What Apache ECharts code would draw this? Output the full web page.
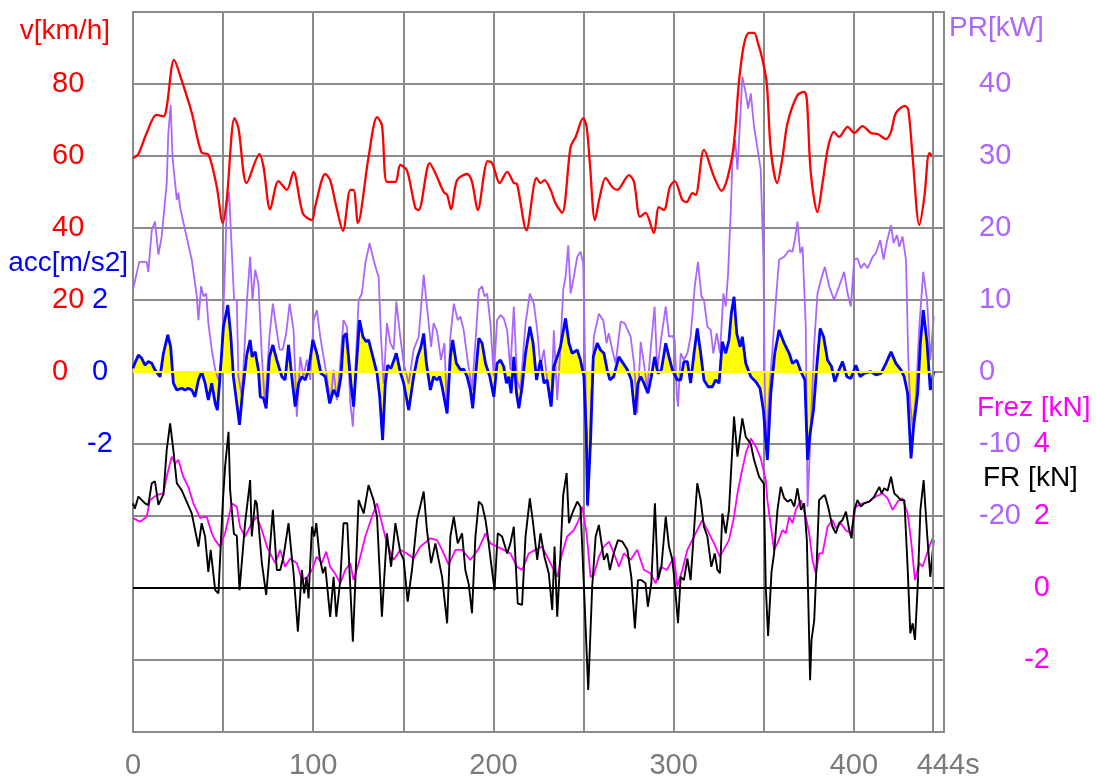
<!DOCTYPE html>
<html>
<head>
<meta charset="utf-8">
<script src="https://cdn.jsdelivr.net/npm/echarts@6/dist/echarts.min.js"></script>
<style>html,body{margin:0;padding:0;background:#fff}#c{width:1096px;height:782px}</style>
</head>
<body>
<div id="c"></div>
<script>
// ---- data (time in s) ----
const xTickLabels = [0, 100, 200, 300, 400, 444];
const speedTicks = [0, 20, 40, 60, 80];
const accTicks = [-2, 0, 2];
const prTicks = [-20, -10, 0, 10, 20, 30, 40];
const frezTicks = [-2, 0, 2, 4];

const speedT = [0,2.9,7.6,13,17,18.7,22.8,27,32.6,38,42,46.5,49.8,52,56.3,58.5,63.1,70.2,72.4,76.1,80.7,85.4,89,94.3,99.3,101,106.7,109.4,112.6,116.5,120.6,122.4,124.8,130.7,135.4,138.1,140.9,145.6,148.3,152,156.7,158.5,164.6,167.8,172.4,174.3,176.5,179.8,185.4,188.1,191.3,196.8,199.3,203.5,207.6,211.3,213.1,218.3,223.9,226.1,228.3,231.7,234.4,238.1,242.8,245.6,249.8,251.7,253.5,256.3,259,262.2,265.9,268.7,275.2,278,281.3,284.4,289,291.8,294.6,297.9,300.6,304.8,307.2,310.4,312.2,316.8,322.4,326.5,332.6,336.3,339,341.8,344.6,347,349.3,351.7,353.9,357.4,360.4,363.2,368.7,372.4,373.9,376.1,379.8,382.6,385.7,389,391.8,396.5,400.2,404.8,409.4,413.2,417.8,420.6,423.3,428.3,430.2,432.6,436.3,439.1,441.9,444.3];
const speedV = [59.4,60.5,66.4,71.4,71,73.6,86.7,81,72,61,60.3,51.4,41.4,47.8,70.5,67.8,52.5,60.5,57,45.2,53,50.6,55.6,44,42.2,45.8,55,53.3,46.4,39.2,50.6,50.6,41.4,59.7,70.8,68.6,52.8,52.8,57.5,56,45.5,45,58,55.2,50,49.2,45.2,53.3,55,52.8,45,58.6,58,52.5,55.6,52.5,52.2,39.4,53.9,52.5,53.3,50.6,46.9,44.2,62.5,65.3,70.5,68.1,58,42.2,48.6,53.9,51.4,50.6,54.7,52.8,43.1,44.2,38.6,45.8,45,51.4,53,47.8,47.2,49.7,49.2,61.7,54.2,50.3,60.3,81,91,94.2,94.2,91,86.7,80,61.7,52.5,59.7,69.2,76.9,77.8,75.6,55.2,44.4,52.5,62.5,66.7,65.3,68.1,66.4,68.3,66.4,66.1,64.7,66.7,71.9,73.9,72.8,59.7,40.8,48.6,60.8,59.4];

const prT = [0,2,3.5,7.6,8.5,10.4,12.2,14.1,15.9,18.7,19.6,20.9,21.9,24.3,25.2,26.1,28.9,32.6,35.4,36.3,37.8,39.1,40.6,41.8,43.7,45.6,47.4,49.3,51.1,52,53.3,54.8,56.1,57.6,58.5,60.4,62.2,63.5,65,66.3,67.8,69.6,71.5,73.3,75.7,77.6,79.4,81.3,83.1,85,86.9,89.1,90.9,92.8,94.6,96.5,98.3,100.2,102,103.9,105.7,107.6,109.4,111.3,113.1,115,116.8,118.7,120.6,122,123.9,125.2,127,128.9,131.3,133.5,135,136.3,137.6,139.1,140.9,142.8,144.6,146.1,148.3,150.2,153,155.7,158.5,161.3,163.1,165.4,166.8,168.7,170.9,172.8,174.3,176.1,178,180.2,181.7,183.5,185.4,188.1,190.6,191.9,193.7,195,196.5,198.3,200.2,202,203.9,205.7,207.6,209.4,211.3,213.1,215,217.8,220.2,222.4,224.3,226.1,228,229.8,232,233.5,235.4,237.2,238.7,240,241.5,242.8,244.6,246.5,248.3,249.8,251.1,252.4,253.9,255.7,258.5,260.9,262.8,264,265.9,267.8,270.6,272.8,276.1,278,279.8,281.7,283.5,285.4,287.2,289.4,290.9,293.2,295.6,297.4,299.3,300.6,301.7,302.4,303.9,305.7,307.6,309.4,311.7,313.5,315.4,316.8,318.7,320.6,322,323.9,325.7,327.6,328.9,330.2,331.7,332.6,334.1,335.4,336.7,338.1,340,341.3,342.8,344.6,346.9,348.3,349.8,350.6,351.5,353,354.8,356.7,358.5,361.3,364.1,365.9,367.2,368.7,370.2,371.5,373.3,374.3,376.1,378,379.8,381.7,383.9,386.3,389,391.8,394.6,396.5,398.3,400.2,402,403.9,405.7,407.6,410.4,412.2,414.6,416.5,418.3,420.6,422,423.9,425.2,427,428.9,430.2,431.3,432.6,434.4,436.3,438.5,440.6,442.4,444.3];
const prV = [11.4,13.7,15.3,15.3,13.9,19.7,20.9,16.3,18.8,26.2,33.2,37.1,29.9,23.9,24.9,22.9,19.7,15.6,10.5,7.2,11.9,10.5,10.9,6.8,3.1,0.3,-1.1,2.6,15.1,23,25,16.9,10,10,-0.6,-3.4,4.9,10.9,16,10,14.2,12.3,2.1,-4.8,4.9,9.5,6.3,3.1,3.1,5.4,9.5,5.8,-6.2,2.1,-0.6,1.7,-1.1,7.2,8.6,4.9,2.1,-0.6,-4.4,0.3,-3.9,1.2,7.2,6.3,-4.4,-7.6,3.1,10,10.9,15.1,17.9,15.6,14.2,13.2,4.9,-1.6,6.8,4,3.1,9.8,4.9,1.2,-1.6,3.1,4.9,13.5,9.1,3.5,6.8,5.6,1.7,4,-5.7,4.9,9.5,7.2,7.7,5.8,2.1,-2.5,6.3,11.4,11.9,10.5,10.9,6.8,-0.6,7.2,7.9,7.5,5.8,0.3,9.1,-1.1,-2.5,6.8,10.9,9.5,5.8,0.7,3.1,-1.1,-4.8,5.8,-3.9,3.5,11.4,13.2,17.6,10.9,13.2,16,16.7,15.1,-1.6,-18.7,-6.2,4.9,8.1,7.2,4,5.4,3.1,1.2,7,6.8,4.9,1.2,-5.7,4.2,1.2,-2.5,3.1,9.1,0.3,4.9,9.1,4.9,5,4.4,-3,-4.8,2.6,1.7,2.6,4.9,11.9,15.3,10.5,10,6.3,5.8,2.6,5.4,2.6,10.9,9.1,13.7,22.5,29.4,32.2,28.1,34.1,41,38.7,36.6,38.7,34.1,30.4,28.1,15.6,-3,-9.9,-3,3.1,10,15.6,16,16.9,16.7,18.3,20.9,16.5,17.4,6.3,-18.7,-7.6,4,10.9,12.8,14.6,11.9,10,11.9,13.9,10.9,9.1,15.6,15.8,14.4,15.1,14.4,16,16.5,18.3,15.6,18.1,20.4,17.9,19,17.4,18.8,15.6,1.7,-4.4,-7.6,-3.4,6.3,13.9,10,1.7,7.7];

const accT = [0,0.6,3,4.8,6.7,8.5,10.4,12.2,15,16.9,19.3,20.9,22.4,24.3,27,28.9,30.7,32.6,34.4,36.3,38.1,40,41.8,43.7,45.6,46.8,48.3,50.2,52.6,54.3,55.7,57.6,59.1,60.9,63.1,65,66.1,67.8,69.6,70.6,72.4,73.9,75.7,77.6,79.8,82.6,84.4,86.3,88.1,90,91.9,93.7,95.6,97.4,99.8,102,104.3,106.7,109.1,111.3,113.5,115.4,116.8,118.3,119.6,120.9,122.4,123.9,125.7,127.6,129.4,130.7,132.6,135.4,136.9,138.5,140,141.3,143.2,146.1,148.3,150.2,153,155.7,157.9,159.8,161.3,162.8,165,166.8,168.7,170.2,171.5,174.3,176.1,177.4,179.4,181.7,183.5,185.4,187.2,188.5,190,191.9,193.7,195.6,198,200.2,202,203.9,205.7,207.2,208.5,209.8,211.3,212.8,214.1,215.9,217.8,220.2,222,223.9,226.1,228,229.8,232,233.5,235.4,237.2,240,241.9,243.7,246.5,248.3,250.2,251.5,252.2,253.9,255.4,257.6,259.4,261.3,263.1,264.6,266.7,269.6,272,274.3,276.5,278.5,280.2,281.7,283.5,285.7,287.6,289.4,291.3,293.2,295.6,297.4,299.3,300.2,302,303.9,305.7,307.6,309.4,311.3,313.1,315,316.8,319.1,321.5,323.3,325.2,327,328.9,330.7,332,333.5,335,336.9,338.1,340,342.8,345.6,347.9,349.8,352,353.9,356.1,358.5,361.3,364.1,365.9,368.3,370.6,372.8,374.3,375.7,377.6,379.4,381.3,383.2,385.4,387.6,389.4,391.8,393.7,396.1,398.3,401.1,403.5,405.7,409.4,412.2,415,417.8,420.6,423.3,426.1,427.9,429.8,431.7,433.1,435.4,436.9,438.5,440.6,442.4,444.3];
const accV = [0.1,0.19,0.47,0.38,0.19,0.29,0.24,0.06,-0.13,0.52,1.03,0.7,-0.31,-0.5,-0.45,-0.5,-0.45,-0.5,-0.69,-0.22,0.01,-0.31,-0.78,-0.31,-0.87,-1.06,-0.13,1.26,1.86,0.98,-0.13,-0.87,-1.47,-0.5,0.47,0.89,0.42,0.56,0.06,-0.69,-0.73,-1.01,0.42,0.75,0.33,-0.13,-0.22,0.75,-0.13,-0.96,-0.31,-0.13,-0.22,0.06,0.89,0.52,-0.04,-0.13,-0.87,-0.5,-0.69,-0.13,0.98,1.07,0.42,-0.31,-0.96,0.15,1.44,0.98,0.84,0.89,0.52,-0.04,-0.69,-1.89,-0.31,0.19,0.1,0.52,0,-0.31,-1.06,-0.13,0.42,0.7,1.07,0.24,-0.5,-0.13,-0.22,-0.13,-0.41,-1.15,0.42,0.89,0.24,0.06,0.08,-0.13,-0.5,-1.01,-0.13,0.94,0.8,0.24,-0.13,-0.69,0.24,0.33,0.15,-0.31,-0.13,-0.59,0.42,-0.59,-1.01,-0.41,0.52,1.26,0.8,-0.22,0.33,-0.31,-0.22,-0.96,0.15,0.42,0.7,1.49,0.8,0.52,0.61,0.33,-0.13,-1.7,-3.7,-1.89,0.42,0.8,0.61,0.52,0.06,-0.22,-0.13,0.42,0.24,0.06,-0.22,-1.19,-0.31,-0.13,-0.31,-0.59,-0.13,0.42,-0.04,0.06,0.8,0.42,0.06,0.01,-0.22,-0.22,0.29,0.29,-0.31,0.52,1.21,0.52,-0.22,-0.41,-0.41,-0.22,-0.31,0.84,0.52,0.89,1.63,2.09,1.07,0.7,0.98,0.24,-0.13,-0.27,-0.45,-1.06,-2.44,-0.59,0.52,1.17,0.8,0.52,0.24,0.33,0.01,-0.22,-2.44,-1.7,-1.06,0.15,1.21,0.98,0.33,0.15,-0.27,0.06,0.29,-0.13,-0.18,0.19,-0.13,-0.04,0.01,-0.08,-0.04,0.24,0.56,0.24,0.06,-0.13,-0.59,-2.4,-1.52,-0.59,0.8,1.72,0.8,-0.5,0.01];

const frT = [0,1,3,6.7,8.5,10.4,12.2,14.1,16.9,18.7,20.6,22.4,24.3,27,32.6,36.3,38.1,40,41.8,43.1,45.6,47.4,49.8,51.1,53,53.9,56,57.6,59.1,62.2,65,65.9,67.8,68.7,71.5,73.9,75.2,77.6,79.8,81.7,83.5,86.3,88.1,89.1,91.5,93.7,95,96.3,97.4,99.3,100.6,101.7,103.5,105.4,106.7,109.4,111.3,112.8,115,116.8,118.9,122,125.2,128,130.7,133.5,135.4,138.1,140.9,143.2,145.6,148.3,150.2,152.4,154.8,157.6,161.3,163.1,165.4,167.8,169.6,171.5,174.3,176.1,178,180.2,182.6,184.4,186.3,188.1,190,191.9,193.7,195.6,196.9,198.7,200.6,202.4,204.8,207.6,209.4,211.3,213.5,215.9,217.8,220.2,222,224.3,226.1,228.3,230.7,232.6,233.9,235.4,237.2,238.7,240.6,241.9,243.7,246.5,248.3,250.2,252.6,254.8,256.7,258.5,261.3,263.1,264.6,266.7,269.1,271.5,274.3,276.5,278.5,280.2,282,284.4,285.7,287.6,289.6,291.3,293.2,295.6,297.4,299.3,300.6,302.4,303.9,305.7,307.6,309.4,311.3,313.1,315,316.8,318.7,320.9,322.8,324.3,325.7,327,328.9,330.7,333.5,335.4,338.1,340,342.8,344.6,347.4,350,351.1,352.4,354.3,355.7,357.6,359.4,361.3,363.2,365,366.9,368.7,370.6,372.4,373.9,375.2,375.7,376.5,378,379.4,380.7,382.6,383.9,385.7,388.1,390,391.8,393.7,395.6,397.4,398.7,400.2,402,403.9,405.7,408.5,411.3,414.1,415.4,416.9,418.7,420.6,422.4,424.3,426.1,428,429.8,431.3,432.6,433.9,435.4,436.9,438.7,440.6,442.4,444.3];
const frV = [2.35,2.2,2.54,2.35,2.3,2.91,2.96,2.31,2.6,3.83,4.57,3.83,2.91,2.72,2.07,1.15,1.8,1.43,0.45,1.06,-0.06,-0.15,2.35,3.37,4.34,2.72,1.5,1.45,-0.06,1.8,3,1.43,2.44,2.35,0.69,-0.19,0.59,2.17,0.5,0.5,0.87,1.8,0.87,0.41,-1.21,0.5,-0.15,0.3,-0.29,1.7,1.43,1.8,0.87,0.41,0.59,-0.8,0.31,-0.8,0.22,1.8,1.8,-1.49,2.44,2.07,2.86,2.44,1.98,-0.8,1.52,0.59,1.8,1,0.78,-0.38,0.5,1.89,2.68,1.61,0.69,1.24,0.78,0.31,-0.98,1.43,1.98,1.24,1.52,0.5,0.1,-0.7,1.43,2.4,2.31,1.89,1.43,0.69,-0.06,1.52,1.43,0.96,1.24,1.7,-0.43,-0.47,1.43,2.49,1.8,0.78,1.52,0.87,0.41,-0.61,1.15,-0.8,0.96,2.58,3.19,1.8,2.07,2.4,2.26,0.04,-2.83,0.04,1.43,1.75,0.78,0.96,0.5,0.96,1.33,1.29,1.06,0.31,-1.12,0.22,0.22,0.13,-0.52,0.13,2.35,0.22,0.59,1.98,1.15,0.78,0.13,-0.98,0.31,0.22,0.82,0.22,1.61,2.91,2.44,1.7,1.43,0.59,0.96,0.5,0.41,2.07,1.52,2.17,4.76,3.65,4.71,4.2,4,3.56,3.09,2.9,0.04,-1.33,0.45,0.96,2.17,2.81,2.5,2.4,2.46,2.26,2.77,2.17,2.35,1.33,-1.44,-2.56,-1.44,-0.89,0.78,2.44,2.54,2.58,2.26,1.7,1.52,1.8,1.89,2.12,1.61,1.38,2.17,2.44,2.26,2.35,2.4,2.54,2.81,2.63,2.77,2.7,3.09,2.63,2.54,2.44,2.44,0.59,-1.26,-0.98,-1.44,0.04,2.17,3,1.52,0.31,1.33];

const frezT = [0,3.9,7.6,9.4,13.1,16.9,18.7,21.5,23.3,25.2,27.9,30.7,33.5,37.2,40.9,43.7,45.6,48.3,51.1,54.8,57.6,59.4,62.2,65.9,68.7,71.5,74.3,76.1,78.9,81.7,84.4,87.2,90.9,93.7,96.5,99.3,102,104.8,107.2,109.4,112,115,117.8,120.6,122.4,125.2,128.9,132.6,135.4,137.2,140.9,144.6,148.3,152,155.7,159.4,165,168.7,171.5,175.2,178.9,182.6,187.2,191.9,195.6,198.3,202,205.7,209.4,213.1,215.9,219.6,223.3,227,230.7,235.4,238.1,240.9,244.6,247.4,249.3,251.7,253.9,255.7,258.5,261.3,264.1,266.9,269.6,272.4,276.1,279.8,283.5,287.2,290,292.8,296.3,300.2,302,304.8,307.6,311.3,315.9,318.7,322.4,325.6,330.7,333.5,335.4,337.2,340,342.8,345.6,348.3,351.1,352,355.7,357.6,360.4,362.2,364.1,365.9,367.8,370.6,373.3,375.2,377,378.9,380.7,382.6,385.4,388.1,390,392.8,395.6,398.3,401.1,404.8,408.5,412.2,415.9,418.7,421.5,424.3,427,429.8,431.7,433.9,436.3,438.1,440,441.9,444.3];
const frezV = [1.94,1.84,1.98,2.44,2.58,2.63,3.09,3.65,3.46,3.56,3.09,2.81,2.35,1.95,1.98,1.52,1.33,1.15,1.52,2.35,2.26,1.7,1.43,1.8,1.98,1.61,1.15,0.96,0.69,1.06,0.59,0.82,0.69,0.22,0.3,0.5,0.87,0.69,1.01,0.59,0.41,0.13,0.5,0.69,0.22,0.69,1.43,1.98,2.35,1.98,1.24,0.78,1.06,0.96,0.82,1.15,1.38,1.33,1.06,0.64,1.06,1.06,0.78,1.1,1.52,1.24,1.15,1.06,0.96,0.59,0.5,0.96,1.06,1.15,0.78,0.31,0.96,1.43,1.61,1.89,2.26,1.52,0.31,0.36,0.87,1.15,1.29,0.96,0.59,0.96,0.78,1.06,0.5,0.41,0.13,0.59,0.5,0.87,0.04,0.5,1.06,1.43,1.89,1.61,1.24,0.87,1.33,1.98,2.63,3.09,3.74,4.15,3.93,3.6,3,2.44,1.06,1.24,1.61,1.52,1.98,1.8,2.17,2.44,1.98,1.52,0.78,0.41,0.96,0.96,1.7,1.89,1.66,1.8,1.6,1.52,2.26,2.35,2.4,2.54,2.63,2.49,2.17,2.4,2.49,2.07,1.33,0.22,0.69,0.59,0.87,1.15,1.47];

// ---- build chart ----
const zip = (t, v) => t.map((x, i) => [x, v[i]]);
const FONT = "'Liberation Sans', Arial, sans-serif";
const TICK_FS = 29, NAME_FS = 28;
const GRIDC = '#8a8a8a';
const C_SPEED = '#ff0000', C_ACC = '#0000ff', C_PR = '#aa66ff', C_FREZ = '#ff00ff', C_FR = '#000000';

const chart = echarts.init(document.getElementById('c'), null, {renderer: 'canvas'});
const lab = (color, ticks, extra) => Object.assign({
  color: color, fontFamily: FONT, fontSize: TICK_FS,
  formatter: v => ticks.indexOf(v) >= 0 ? String(v) : ''
}, extra);

const txt = (text, x, y, color, align) => ({
  type: 'text', x: x, y: y, silent: true,
  style: {text: text, fill: color, fontFamily: FONT, fontSize: NAME_FS, align: align, verticalAlign: 'middle'}
});

chart.setOption({
  animation: false,
  backgroundColor: '#fff',
  grid: {left: 133, right: 152, top: 12, bottom: 50, show: true, borderColor: GRIDC, borderWidth: 2, backgroundColor: 'transparent'},
  xAxis: {
    type: 'value', min: 0, max: 450, interval: 50,
    axisLine: {show: false}, axisTick: {show: false},
    splitLine: {show: true, lineStyle: {color: GRIDC, width: 2}},
    axisLabel: {
      customValues: xTickLabels, color: '#7a7a7a', fontFamily: FONT, fontSize: TICK_FS, margin: 19,
      formatter: v => v === 444 ? '{s|444s}' : String(v),
      rich: {s: {color: '#7a7a7a', fontFamily: FONT, fontSize: TICK_FS, padding: [0, 0, 0, 30]}}
    }
  },
  yAxis: [
    {type: 'value', position: 'left', min: -100, max: 100, interval: 20,
     axisLine: {show: false}, axisTick: {show: false},
     splitLine: {show: true, lineStyle: {color: GRIDC, width: 2}},
     axisLabel: lab(C_SPEED, speedTicks, {align: 'left', margin: 81})},
    {type: 'value', position: 'left', min: -10, max: 10, interval: 2,
     axisLine: {show: false}, axisTick: {show: false}, splitLine: {show: false},
     axisLabel: lab(C_ACC, accTicks, {align: 'center', margin: 33})},
    {type: 'value', position: 'right', min: -50, max: 50, interval: 10,
     axisLine: {show: false}, axisTick: {show: false}, splitLine: {show: false},
     axisLabel: lab(C_PR, prTicks, {align: 'left', margin: 35})},
    {type: 'value', position: 'right', min: -4, max: 16, interval: 2,
     axisLine: {show: false}, axisTick: {show: false}, splitLine: {show: false},
     axisLabel: lab(C_FREZ, frezTicks, {align: 'right', margin: 106})}
  ],
  graphic: [
    txt('v[km/h]', 110, 31, C_SPEED, 'right'),
    txt('acc[m/s2]', 128, 263, C_ACC, 'right'),
    txt('PR[kW]', 949, 28, C_PR, 'left'),
    txt('Frez [kN]', 977, 408, C_FREZ, 'left'),
    txt('FR [kN]', 983, 478, C_FR, 'left')
  ],
  series: [
    {name: 'accArea', type: 'line', yAxisIndex: 1, data: zip(accT, accV), symbol: 'none',
     lineStyle: {width: 0, opacity: 0}, areaStyle: {color: '#ffff00', opacity: 1},
     markLine: {silent: true, symbol: 'none', label: {show: false},
       lineStyle: {color: '#ffff00', width: 2, type: 'solid'},
       data: [[{coord: [0, 0]}, {coord: [444, 0]}]]}},
    {name: 'PR', type: 'line', yAxisIndex: 2, data: zip(prT, prV), symbol: 'none',
     lineStyle: {color: C_PR, width: 1.8}},
    {name: 'acc', type: 'line', yAxisIndex: 1, data: zip(accT, accV), symbol: 'none',
     lineStyle: {color: C_ACC, width: 2.8}},
    {name: 'v', type: 'line', yAxisIndex: 0, data: zip(speedT, speedV), symbol: 'none', smooth: 0.3,
     lineStyle: {color: C_SPEED, width: 2.3}},
    {name: 'Frez', type: 'line', yAxisIndex: 3, data: zip(frezT, frezV), symbol: 'none',
     lineStyle: {color: C_FREZ, width: 1.8}},
    {name: 'FR', type: 'line', yAxisIndex: 3, data: zip(frT, frV), symbol: 'none',
     lineStyle: {color: C_FR, width: 1.9},
     markLine: {silent: true, symbol: 'none', label: {show: false}, animation: false,
       data: [
         {yAxis: 0, lineStyle: {color: '#000', width: 2, type: 'solid'}},
         {xAxis: 444, lineStyle: {color: GRIDC, width: 2, type: 'solid'}}
       ]}}
  ]
});
</script>
</body>
</html>
